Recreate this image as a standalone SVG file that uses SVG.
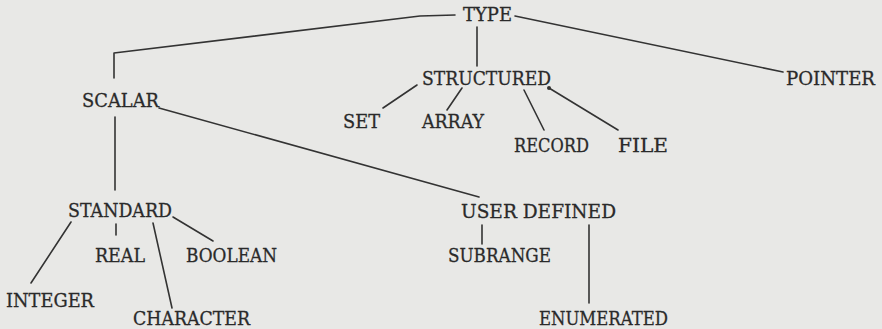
<svg xmlns="http://www.w3.org/2000/svg" width="882" height="329" viewBox="0 0 882 329">
<style>
.bg{fill:#e8e8e6}
.lbl{font-family:"DejaVu Serif","Liberation Serif",serif;font-size:19px;fill:#2a2a2a;stroke:#2a2a2a;stroke-width:0.3}
.ln{fill:none;stroke:#333333;stroke-width:1.6;stroke-linecap:round;stroke-linejoin:round}
</style>
<rect class="bg" x="0" y="0" width="882" height="329"/>
<g id="connectors">
<path class="ln" d="M455,15 L420,16 L114,53 L114,78"/>
<path class="ln" d="M477,27 L477,66"/>
<path class="ln" d="M515,16 L783,72"/>
<path class="ln" d="M417,85 L383,108"/>
<path class="ln" d="M462,88 L447,110"/>
<path class="ln" d="M524,90 L544,130"/>
<path class="ln" d="M549,88 L618,130"/>
<circle cx="549" cy="88" r="2" fill="#333333"/>
<path class="ln" d="M159,108 L479,197"/>
<path class="ln" d="M115,117 L115,190"/>
<path class="ln" d="M71,222 L31,283"/>
<path class="ln" d="M116,224 L116,235"/>
<path class="ln" d="M153,223 L172,308"/>
<path class="ln" d="M173,217 L213,241"/>
<path class="ln" d="M482,225 L482,244"/>
<path class="ln" d="M589,225 L589,303"/>
</g>
<g id="type"><text class="lbl" x="463" y="21" textLength="49" lengthAdjust="spacingAndGlyphs">TYPE</text></g>
<g id="scalar"><text class="lbl" x="82" y="107" textLength="77" lengthAdjust="spacingAndGlyphs">SCALAR</text></g>
<g id="structured"><text class="lbl" x="422" y="85" textLength="129" lengthAdjust="spacingAndGlyphs">STRUCTURED</text></g>
<g id="pointer"><text class="lbl" x="786" y="85" textLength="89" lengthAdjust="spacingAndGlyphs">POINTER</text></g>
<g id="set"><text class="lbl" x="343" y="128" textLength="37" lengthAdjust="spacingAndGlyphs">SET</text></g>
<g id="array"><text class="lbl" x="422" y="128" textLength="62" lengthAdjust="spacingAndGlyphs">ARRAY</text></g>
<g id="record"><text class="lbl" x="514" y="152" textLength="75" lengthAdjust="spacingAndGlyphs">RECORD</text></g>
<g id="file"><text class="lbl" x="618" y="152" textLength="50" lengthAdjust="spacingAndGlyphs">FILE</text></g>
<g id="standard"><text class="lbl" x="68" y="217" textLength="104" lengthAdjust="spacingAndGlyphs">STANDARD</text></g>
<g id="user-defined"><text class="lbl" x="461" y="218" textLength="155" lengthAdjust="spacingAndGlyphs">USER DEFINED</text></g>
<g id="real"><text class="lbl" x="95" y="262" textLength="50" lengthAdjust="spacingAndGlyphs">REAL</text></g>
<g id="boolean"><text class="lbl" x="186" y="262" textLength="91" lengthAdjust="spacingAndGlyphs">BOOLEAN</text></g>
<g id="subrange"><text class="lbl" x="448" y="262" textLength="103" lengthAdjust="spacingAndGlyphs">SUBRANGE</text></g>
<g id="integer"><text class="lbl" x="6" y="307" textLength="88" lengthAdjust="spacingAndGlyphs">INTEGER</text></g>
<g id="character"><text class="lbl" x="133" y="325" textLength="117" lengthAdjust="spacingAndGlyphs">CHARACTER</text></g>
<g id="enumerated"><text class="lbl" x="539" y="325" textLength="129" lengthAdjust="spacingAndGlyphs">ENUMERATED</text></g>
</svg>
